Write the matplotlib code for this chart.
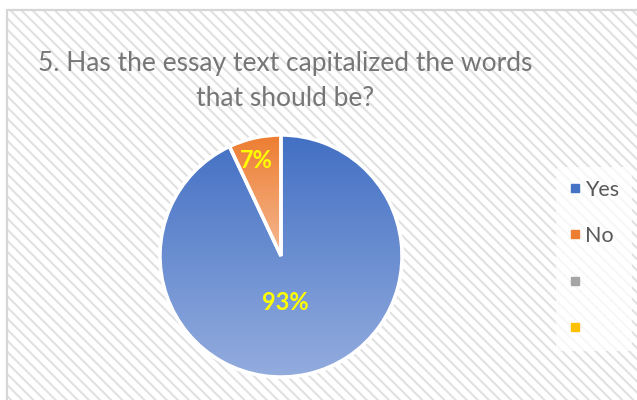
import numpy as np
import matplotlib
matplotlib.use("Agg")
import matplotlib.pyplot as plt
from matplotlib.patches import Rectangle, Wedge
from matplotlib.lines import Line2D
from matplotlib.colors import LinearSegmentedColormap

plt.rcParams['font.family'] = ['Lato', 'DejaVu Sans']
plt.rcParams['hatch.linewidth'] = 1.5

title = "5. Has the essay text capitalized the words\nthat should be?"
categories = ["Yes", "No", "", ""]
values = [93, 7, 0, 0]
colors = ["#4472C4", "#ED7D31", "#A5A5A5", "#FFC000"]
# top / bottom colours of the gradient fill for each slice
grad_top = ["#4370C4", "#ED7D31", "#A5A5A5", "#FFC000"]
grad_bottom = ["#93ACDE", "#F5B891", "#D0D0D0", "#FFE08A"]

W, H = 637, 400
fig = plt.figure(figsize=(W / 100, H / 100), dpi=100)
fig.patch.set_facecolor("white")

# chart area: diagonal stripes and a light border
left, top = 7 / W, 1 - 10 / H
bg = Rectangle((left, -0.05), 1.1 - left, top + 0.05, transform=fig.transFigure,
               facecolor="white", edgecolor="#E1E1E1", hatch="\\\\\\",
               linewidth=0, zorder=-3)
fig.patches.append(bg)
border = Rectangle((left, -0.05), 1.1 - left, top + 0.05, transform=fig.transFigure,
                   fill=False, edgecolor="#D6D6D6", linewidth=1.6, zorder=-2)
fig.patches.append(border)

fig.text(285 / W, 1 - 81 / H, title, ha="center", va="center",
         fontsize=19, color="#767676", linespacing=1.45)

# pie axes
cx, cy, r = 281, 256, 121
pad = 4
ax = fig.add_axes([(cx - r - pad) / W, (H - cy - r - pad) / H,
                   2 * (r + pad) / W, 2 * (r + pad) / H])
ax.patch.set_visible(False)
lim = (r + pad) / r
ax.set_aspect("equal")
ax.axis("off")

wedges, _ = ax.pie(values, colors=colors, startangle=90, counterclock=False,
                   radius=1, wedgeprops=dict(edgecolor="white", linewidth=2.5))

for w, ct, cb, v in zip(wedges, grad_top, grad_bottom, values):
    if v == 0:
        continue
    cmap = LinearSegmentedColormap.from_list("g", [cb, ct])
    th = np.deg2rad(np.linspace(w.theta1, w.theta2, 200))
    ys = np.concatenate([[0], np.sin(th)])
    y0, y1 = ys.min(), ys.max()
    grad = np.linspace(0, 1, 256).reshape(-1, 1)
    im = ax.imshow(grad, cmap=cmap, origin="lower", extent=(-1, 1, y0, y1),
                   aspect="auto", zorder=w.get_zorder() + 0.1)
    im.set_clip_path(w)
    # white separators above the gradient
    ax.add_patch(Wedge((0, 0), 1, w.theta1, w.theta2, facecolor="none",
                       edgecolor="white", linewidth=2.5,
                       zorder=w.get_zorder() + 0.2))

ax.set_xlim(-lim, lim)
ax.set_ylim(-lim, lim)

# percentage labels
total = sum(values)
label_pos = {0: (285, 302), 1: (256, 160)}
for i, v in enumerate(values):
    if v == 0:
        continue
    px, py = label_pos[i]
    fig.text(px / W, 1 - py / H, f"{round(v / total * 100)}%", ha="center",
             va="center", fontsize=17, fontweight="bold", color="#FFFF00")

handles = [Line2D([], [], linestyle="none", marker="s", markersize=5.5,
                  markerfacecolor=c, markeredgecolor=c) for c in colors]
leg = fig.legend(handles, categories, loc="upper left",
                 bbox_to_anchor=(545 / W, 1 - 156 / H), frameon=True,
                 fontsize=15.5, labelspacing=1.22, handlelength=0.6,
                 handletextpad=0.15, borderpad=0.6, labelcolor="#595959")
leg.get_frame().set_facecolor("white")
leg.get_frame().set_alpha(0.75)
leg.get_frame().set_edgecolor("none")

fig.savefig("out.png", dpi=100, facecolor="white")
